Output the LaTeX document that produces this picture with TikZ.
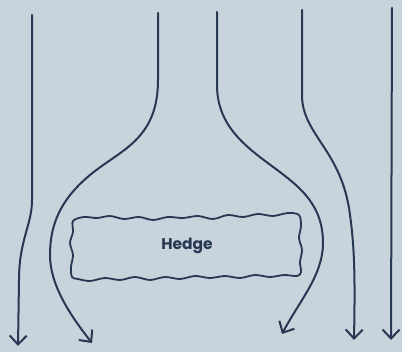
\documentclass[tikz,border=0pt]{standalone}
\usepackage{fontspec}
\setmainfont{Poppins}
\usetikzlibrary{arrows.meta}
\definecolor{bgc}{RGB}{200,211,219}
\definecolor{ink}{RGB}{40,55,82}
\tikzset{
  flow/.style={draw=ink, line width=2pt, line cap=round,
    -{Straight Barb[length=9pt,width=17pt,line width=2pt]}},
  hedgebox/.style={draw=ink, line width=1.8pt, line join=round},
  lbl/.style={text=ink, font=\bfseries\fontsize{15.5}{18}\selectfont}
}
\begin{document}
\begin{tikzpicture}[x=1pt,y=-1pt]
\fill[bgc] (0,0) rectangle (402,352);
\useasboundingbox (0,0) rectangle (402,352);
% flow lines
\draw[flow] (32,15) -- (32,200) .. controls (32,225) and (19,240) .. (19,280) -- (18,346);
\draw[flow] (158,13) -- (158,80) .. controls (158,140) and (120,150) .. (90,175)
  .. controls (60,200) and (50,225) .. (50,255) .. controls (50,285) and (70,315) .. (92,343);
\draw[flow] (217,12) -- (217,85) .. controls (217,135) and (260,155) .. (290,180)
  .. controls (315,200) and (323,220) .. (323,243) .. controls (323,275) and (300,300) .. (282,334);
\draw[flow] (302,10) -- (302,95) .. controls (302,135) and (342,150) .. (350,215)
  .. controls (355,250) and (355,285) .. (354,340);
\draw[flow] (392,8) -- (391,340);
% hedge
\draw[hedgebox] plot[smooth cycle, tension=0.55] coordinates {
 (73,221) (84,217) (97,218) (110,216) (124,219) (139,217) (153,220) (168,217) (183,218) (198,216) (213,219) (228,215) (243,217) (258,214) (273,216) (288,213) (299,215)
 (301,226) (299,238) (302,250) (300,262) (301,272)
 (297,276) (284,275) (270,277) (255,275) (240,278) (225,276) (210,278) (195,276) (180,279) (165,277) (150,280) (135,277) (120,280) (105,278) (90,281) (78,279) (72,277)
 (71,267) (73,255) (70,243) (73,232)};
\node[lbl] (hedge) at (187,246) {Hedge};
\end{tikzpicture}
\end{document}
